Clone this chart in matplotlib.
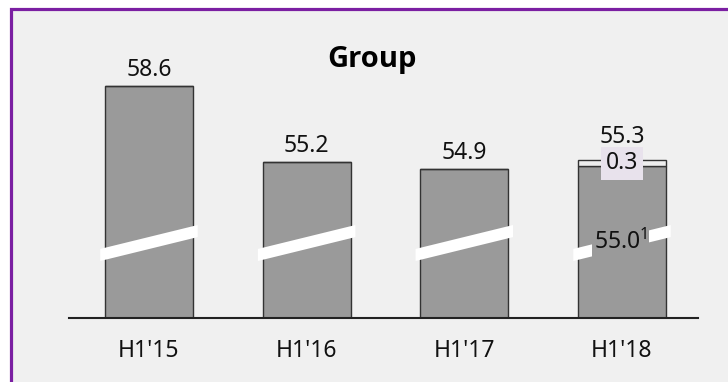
import matplotlib.pyplot as plt
from matplotlib.patches import Rectangle, Polygon

plt.rcParams['font.family'] = ['Noto Sans', 'DejaVu Sans']
plt.rcParams['mathtext.fontset'] = 'custom'
plt.rcParams['mathtext.rm'] = 'Noto Sans'

# values per half-year
periods = ["H1'15", "H1'16", "H1'17", "H1'18"]
totals = [58.6, 55.2, 54.9, 55.3]
base = [58.6, 55.2, 54.9, 55.0]
extra = [0.0, 0.0, 0.0, 0.3]
base_note = r"55.0$^{\mathrm{1}}$"

bar_grey = '#9a9a9a'
edge = '#333333'
purple = '#7b1fa2'

fig = plt.figure(figsize=(7.28, 3.82), dpi=100, facecolor='white')

# panel frame
fig.patches.append(Rectangle((10.5 / 728, -0.1), 1.2, 1.1 - 9.5 / 382,
                             transform=fig.transFigure, facecolor='#f0f0f0',
                             edgecolor=purple, linewidth=2.3, zorder=-5))

ax = fig.add_axes([69 / 728, 64 / 382, 629 / 728, 298 / 382])
ax.set_zorder(2)
ax.set_facecolor('none')
ymin = 48.22
ax.set_ylim(ymin, ymin + 298 / 22.35)
ax.set_xlim(-0.507, 3.482)

x = list(range(len(periods)))
w = 0.558
ax.bar(x, base, width=w, color=bar_grey, edgecolor=edge, linewidth=1.0, zorder=2)
ax.bar(x, extra, width=w, bottom=base, color='#eeeeee', edgecolor=edge,
       linewidth=1.0, zorder=2)

# axis-break slashes
ext = 0.03
for xi in x:
    x0, x1 = xi - w / 2 - ext, xi + w / 2 + ext
    ax.add_patch(Polygon([(x0, 50.77), (x1, 51.84), (x1, 52.38), (x0, 51.31)],
                         closed=True, facecolor='white', edgecolor='none', zorder=3))

# value labels
for xi, t, e in zip(x, totals, extra):
    off = 17 if e > 0 else 10
    ax.annotate(f'{t:.1f}', (xi, t), xytext=(0, off), textcoords='offset pixels',
                ha='center', va='baseline', fontsize=16.5, color='#111111', zorder=5)

i = len(periods) - 1
ax.text(i, base[i] + extra[i] / 2, f'{extra[i]:.1f}', ha='center', va='center',
        fontsize=16.5, color='#111111', zorder=5,
        bbox=dict(boxstyle='square,pad=0.2', facecolor='#e8e2ec', edgecolor='none'))
ax.text(i - 0.01, 51.6, base_note, ha='center', va='center', fontsize=16.5,
        color='#111111', zorder=5,
        bbox=dict(boxstyle='square,pad=0.08', facecolor=bar_grey, edgecolor='none'))

fig.text(372 / 728, 1 - 67 / 382, 'Group', ha='center', va='baseline',
         fontsize=21, fontweight='bold', color='#000000',
         family=['Open Sans', 'DejaVu Sans'])

for s in ['top', 'right', 'left']:
    ax.spines[s].set_visible(False)
ax.spines['bottom'].set_color('#222222')
ax.spines['bottom'].set_linewidth(1.5)
ax.set_yticks([])
ax.set_xticks(x)
ax.set_xticklabels(periods, fontsize=16.5, color='#111111')
ax.tick_params(axis='x', length=0, pad=15)

fig.savefig('out.png', dpi=100, facecolor=fig.get_facecolor())
